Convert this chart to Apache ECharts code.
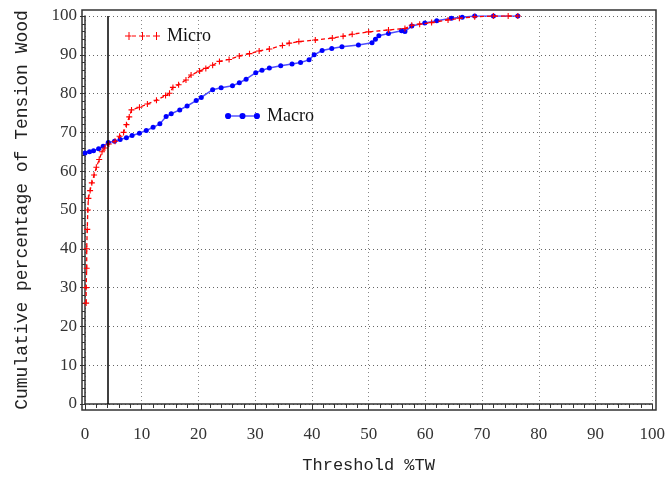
<!DOCTYPE html>
<html>
<head>
<meta charset="utf-8">
<script src="https://cdn.jsdelivr.net/npm/echarts@6/dist/echarts.min.js"></script>
<style>
  html, body { margin: 0; padding: 0; background: #fff; }
  #chart { width: 668px; height: 479px; }
</style>
</head>
<body>
<div id="chart"></div>
<script>
// Micro curve (red, dashed, plus markers)
const microX = [0.2, 0.2, 0.3, 0.3, 0.4, 0.5, 0.6, 0.9, 1.2, 1.6, 2.0, 2.5, 3.0, 3.5, 4.2, 5.3, 6.1, 6.8, 7.3, 7.8,
  8.2, 9.6, 11, 12.6, 14.2, 14.9, 15.5, 16.5, 17.8, 18.7, 20.2, 21.3, 22.5, 23.7, 25.4, 27.2, 29, 30.7, 32.5, 34.8,
  36, 37.7, 40.6, 43.6, 45.5, 47.1, 50, 53.5, 56.4, 57.6, 59, 61.1, 64, 66, 68.7, 72, 74.6, 76.3]
const microY = [26, 30, 35, 40, 45, 50, 53, 55, 57, 59, 61, 63, 65, 66, 67, 67.7, 69, 70, 72, 74,
  75.8, 76.5, 77.3, 78.3, 79.5, 80.1, 81.6, 82.3, 83.5, 84.8, 85.8, 86.5, 87.3, 88.3, 88.8, 89.7, 90.3, 91, 91.5, 92.4,
  93, 93.4, 93.8, 94.3, 94.8, 95.3, 95.9, 96.4, 96.8, 97.6, 97.9, 98.3, 99, 99.4, 99.8, 100, 100, 100]

// Macro curve (blue, solid, dot markers)
const macroX = [0, 0.8, 1.5, 2.4, 3.2, 4.1, 5.2, 6.2, 7.3, 8.3, 9.6, 10.8, 12, 13.2, 14.3, 15.2, 16.7, 18, 19.6, 20.5,
  22.5, 24, 26, 27.2, 28.4, 30.1, 31.2, 32.5, 34.5, 36.5, 38, 39.5, 40.4, 41.8, 43.5, 45.3, 48.2, 50.6, 51.2, 51.8,
  53.5, 55.8, 56.4, 57.6, 59.9, 62, 64.6, 66.5, 68.7, 72, 76.3]
const macroY = [64.7, 65, 65.3, 65.8, 66.4, 67.4, 67.7, 68.2, 68.6, 69.2, 69.8, 70.5, 71.3, 72.2, 74.1, 74.8, 75.8, 76.8, 78.2, 79,
  81, 81.5, 82, 82.8, 83.7, 85.4, 86, 86.6, 87.2, 87.6, 88, 88.7, 90, 91.1, 91.6, 92.1, 92.5, 93.1, 94, 94.9,
  95.5, 96.2, 96, 97.4, 98.2, 98.8, 99.4, 99.7, 100, 100, 100]

const thresholdLine = 4

const pair = (xs, ys) => xs.map((x, i) => [x, ys[i]])

const plusPath = 'path://M-0.18,-1H0.18V-0.18H1V0.18H0.18V1H-0.18V0.18H-1V-0.18H-0.18Z'
// legend icons: dashed line with three pluses / line with three dots
const microIcon = 'path://M0,4.5h4v1h-4z M7,4.5h4v1h-4z M14,4.5h4v1h-4z M21,4.5h4v1h-4z M28,4.5h4v1h-4z M32,4.5h3v1h-3z' +
  ' M3.5,1h1v8h-1z M17,1h1v8h-1z M31,1h1v8h-1z M1.5,4.5h5v1h-5z M15,4.5h5v1h-5z M29,4.5h5v1h-5z'
const macroIcon = 'path://M6.5,4.4H14.5V5.6H6.5Z M20.5,4.4H28.5V5.6H20.5Z' +
  ' M0.5,5a3,3 0 1,0 6,0a3,3 0 1,0 -6,0Z M14.5,5a3,3 0 1,0 6,0a3,3 0 1,0 -6,0Z M28.5,5a3,3 0 1,0 6,0a3,3 0 1,0 -6,0Z'

const serif = '"Liberation Serif", "DejaVu Serif", serif'
const mono = '"Liberation Mono", "DejaVu Sans Mono", monospace'

const chart = echarts.init(document.getElementById('chart'))

const option = {
  backgroundColor: '#fff',
  animation: false,
  grid: { left: 85, right: 15, top: 16, bottom: 74 },
  legend: [{
    data: [{ name: 'Micro', icon: microIcon }],
    left: 125, top: 27, padding: 0,
    itemWidth: 35, itemHeight: 10, itemGap: 6,
    itemStyle: { borderWidth: 0 },
    textStyle: { fontFamily: serif, fontSize: 18, color: '#111', padding: [0, 0, 0, 2] }
  }, {
    data: [{ name: 'Macro', icon: macroIcon }],
    left: 225, top: 107, padding: 0,
    itemWidth: 35, itemHeight: 10, itemGap: 6,
    itemStyle: { borderWidth: 0 },
    textStyle: { fontFamily: serif, fontSize: 18, color: '#111', padding: [0, 0, 0, 2] }
  }],
  xAxis: {
    type: 'value',
    min: 0, max: 100, interval: 10,
    offset: 5,
    name: 'Threshold %TW',
    nameLocation: 'middle',
    nameGap: 48,
    nameTextStyle: { fontFamily: mono, fontSize: 17, color: '#222' },
    axisLine: { show: true, lineStyle: { color: '#333', width: 1.5 } },
    axisTick: { show: true, length: 6, lineStyle: { color: '#333' } },
    minorTick: { show: true, splitNumber: 5, length: 4, lineStyle: { color: '#333' } },
    axisLabel: { margin: 17, fontFamily: serif, fontSize: 17, color: '#333' },
    splitLine: { show: true, lineStyle: { color: '#888', type: [1, 3] } }
  },
  yAxis: {
    type: 'value',
    min: 0, max: 100, interval: 10,
    name: 'Cumulative percentage of Tension Wood',
    nameLocation: 'middle',
    nameGap: 54,
    nameTextStyle: { fontFamily: mono, fontSize: 18, color: '#222' },
    axisLine: { show: true, lineStyle: { color: '#333', width: 1.5 } },
    axisTick: { show: true, length: 5, lineStyle: { color: '#333' } },
    minorTick: { show: true, splitNumber: 5, length: 3, lineStyle: { color: '#333' } },
    axisLabel: { margin: 8, fontFamily: serif, fontSize: 17, color: '#333' },
    splitLine: { show: true, lineStyle: { color: '#666', type: [1, 3] } }
  },
  graphic: [{
    type: 'rect',
    silent: true,
    z: 100,
    shape: { x: 82, y: 10, width: 574, height: 400 },
    style: { fill: 'none', stroke: '#333', lineWidth: 1.5 }
  }],
  series: [{
    name: 'Micro',
    type: 'line',
    data: pair(microX, microY),
    symbol: plusPath,
    symbolSize: 6,
    color: '#ff0000',
    itemStyle: { color: '#ff0000' },
    lineStyle: { color: '#ff0000', width: 1.3, type: [4, 3] },
    z: 3
  }, {
    name: 'Macro',
    type: 'line',
    data: pair(macroX, macroY),
    symbol: 'circle',
    symbolSize: 5,
    color: '#0000ff',
    itemStyle: { color: '#0000ff' },
    lineStyle: { color: '#4d4dff', width: 1.5 },
    z: 2,
    markLine: {
      silent: true,
      symbol: 'none',
      label: { show: false },
      lineStyle: { color: '#000', width: 1.5, type: 'solid' },
      data: [{ xAxis: thresholdLine }]
    }
  }]
}

chart.setOption(option)
</script>
</body>
</html>
